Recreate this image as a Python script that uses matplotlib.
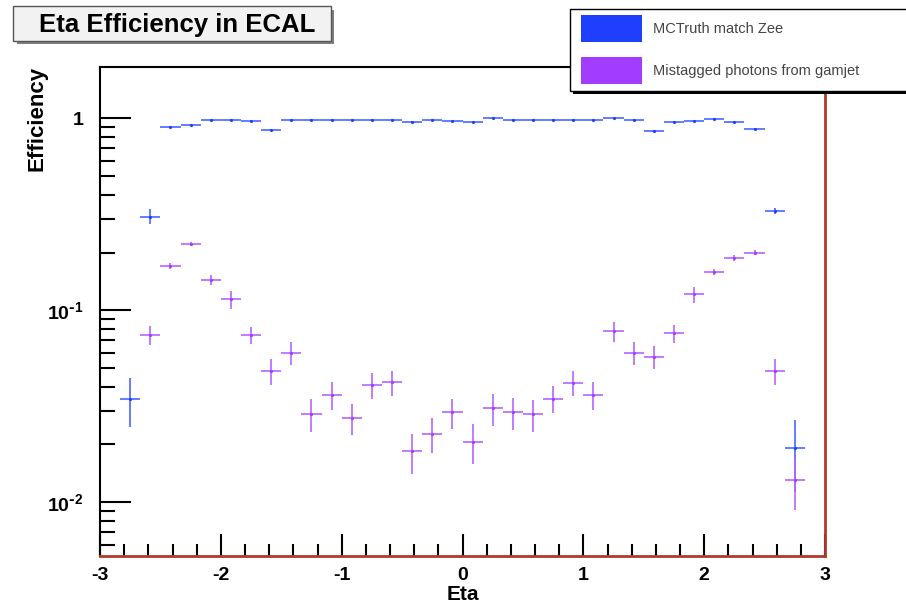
import matplotlib
matplotlib.use("Agg")
import matplotlib.pyplot as plt
from matplotlib.patches import Rectangle
from matplotlib.ticker import FixedLocator, NullFormatter
import numpy as np

plt.rcParams.update({"font.family": ["Liberation Sans", "DejaVu Sans"], "font.weight": "bold",
                     "mathtext.fontset": "custom", "mathtext.bf": "Liberation Sans:bold"})

# 36 eta bins from -3 to 3
eta_edges = np.linspace(-3, 3, 37)

# MCTruth match Zee (nan = empty bin)
zee_eff = [np.nan, 0.0345, 0.308, 0.90, 0.925, 0.98, 0.98, 0.965, 0.87, 0.98,
           0.98, 0.98, 0.98, 0.98, 0.98, 0.955, 0.98, 0.965, 0.955, 1.0,
           0.98, 0.98, 0.98, 0.98, 0.98, 1.0, 0.98, 0.86, 0.955, 0.97,
           0.99, 0.955, 0.88, 0.330, 0.0191, np.nan]
zee_err = [0, 0.0098, 0.027, 0.008, 0.008, 0.008, 0.008, 0.008, 0.008, 0.008,
           0.008, 0.008, 0.008, 0.008, 0.008, 0.008, 0.008, 0.008, 0.008, 0.008,
           0.008, 0.008, 0.008, 0.008, 0.008, 0.008, 0.008, 0.008, 0.008, 0.008,
           0.008, 0.008, 0.008, 0.012, 0.0078, 0]

# Mistagged photons from gamjet
gam_eff = [np.nan, np.nan, 0.0746, 0.170, 0.221, 0.144, 0.114, 0.0743, 0.0483, 0.060,
           0.0288, 0.0364, 0.0274, 0.041, 0.0422, 0.0184, 0.0228, 0.0294, 0.0207, 0.0308,
           0.0294, 0.0288, 0.0347, 0.042, 0.0364, 0.0776, 0.060, 0.0571, 0.0758, 0.121,
           0.159, 0.187, 0.200, 0.0485, 0.0131, np.nan]
gam_err = [0, 0, 0.0087, 0.006, 0.006, 0.008, 0.012, 0.0078, 0.0074, 0.0083,
           0.0057, 0.006, 0.0051, 0.0064, 0.0063, 0.0043, 0.0048, 0.0053, 0.0049, 0.0058,
           0.0055, 0.0055, 0.0055, 0.0062, 0.006, 0.0092, 0.0083, 0.0079, 0.0085, 0.0115,
           0.006, 0.006, 0.006, 0.0075, 0.004, 0]

labels = ["MCTruth match Zee", "Mistagged photons from gamjet"]
BLUE = "#1f3fff"
PURPLE = "#a23cff"
W, H = 906, 606


def fx(px):
    return px / W


def fy(py):
    return 1 - py / H


fig = plt.figure(figsize=(9.06, 6.06), dpi=100)
ax = fig.add_axes([fx(100), fy(555.7), fx(825) - fx(100), fy(66.7) - fy(555.7)])

centers = 0.5 * (eta_edges[:-1] + eta_edges[1:])
half = 0.5 * np.diff(eta_edges)

for eff, err, col, ecol in [(zee_eff, zee_err, BLUE, "#4a66ff"), (gam_eff, gam_err, PURPLE, "#b566ff")]:
    eff = np.array(eff)
    ok = ~np.isnan(eff)
    ax.errorbar(centers[ok], eff[ok], yerr=np.array(err)[ok], xerr=half[ok],
                fmt=".", ms=2.5, color=col, ecolor=ecol, elinewidth=1.2, capsize=0)

ax.set_yscale("log")
ax.set_xlim(-3, 3)
ax.set_ylim(0.00527, 1.857)

# ROOT-like axes
for s in ["left", "top"]:
    ax.spines[s].set_color("black")
    ax.spines[s].set_linewidth(1.5)
for s in ["right", "bottom"]:
    ax.spines[s].set_color("#b03a2e")
    ax.spines[s].set_linewidth(2)

ax.xaxis.set_major_locator(FixedLocator([-3, -2, -1, 0, 1, 2, 3]))
ax.xaxis.set_minor_locator(FixedLocator(np.arange(-3, 3.01, 0.2)))
ax.set_xticklabels(["-3", "-2", "-1", "0", "1", "2", "3"], fontsize=14, fontweight="bold")
ax.tick_params(axis="x", which="major", direction="in", length=16, width=1.5, pad=8)
ax.tick_params(axis="x", which="minor", direction="in", length=9, width=1.5)

ax.yaxis.set_major_locator(FixedLocator([0.01, 0.1, 1]))
minors = [m * d for d in [0.001, 0.01, 0.1] for m in range(2, 10)]
ax.yaxis.set_minor_locator(FixedLocator(minors))
ax.yaxis.set_minor_formatter(NullFormatter())
ax.set_yticklabels([r"$\mathbf{10^{\text{-}2}}$", r"$\mathbf{10^{\text{-}1}}$", "1"],
                   fontsize=14, fontweight="bold")
ax.tick_params(axis="y", which="major", direction="in", length=22, width=1.5, pad=12)
ax.tick_params(axis="y", which="minor", direction="in", length=11, width=1.5)
ax.tick_params(top=False, right=False, which="both")

fig.text(fx(463), fy(604), "Eta", fontsize=15, fontweight="bold", ha="center", va="bottom")
fig.text(fx(37), fy(66), "Efficiency", fontsize=16, fontweight="bold",
         rotation=90, ha="center", va="top")

# title box with shadow
fig.add_artist(Rectangle((fx(17), fy(44)), fx(334) - fx(17), fy(10) - fy(44),
                         transform=fig.transFigure, facecolor="#7f7f7f", edgecolor="none"))
fig.add_artist(Rectangle((fx(13), fy(41)), fx(331) - fx(13), fy(6) - fy(41),
                         transform=fig.transFigure, facecolor="#f2f2f2", edgecolor="#555555", lw=1))
fig.text(fx(177), fy(25), "Eta Efficiency in ECAL", fontsize=18.5, fontweight="bold",
         ha="center", va="center")

# legend box with shadow
fig.add_artist(Rectangle((fx(573), fy(94)), fx(910) - fx(573), fy(12) - fy(94),
                         transform=fig.transFigure, facecolor="black", edgecolor="none"))
fig.add_artist(Rectangle((fx(570), fy(91)), fx(910) - fx(570), fy(9) - fy(91),
                         transform=fig.transFigure, facecolor="white", edgecolor="black", lw=1))
for i, (lab, col) in enumerate(zip(labels, [BLUE, PURPLE])):
    top = 15 + i * 42
    fig.add_artist(Rectangle((fx(581), fy(top + 27)), fx(642) - fx(581), fy(top) - fy(top + 27),
                             transform=fig.transFigure, facecolor=col, edgecolor="none"))
    fig.text(fx(653), fy(top + 14), lab, fontsize=10.5, fontweight="normal", color="#444444",
             ha="left", va="center")

fig.savefig("out.png", dpi=100)
